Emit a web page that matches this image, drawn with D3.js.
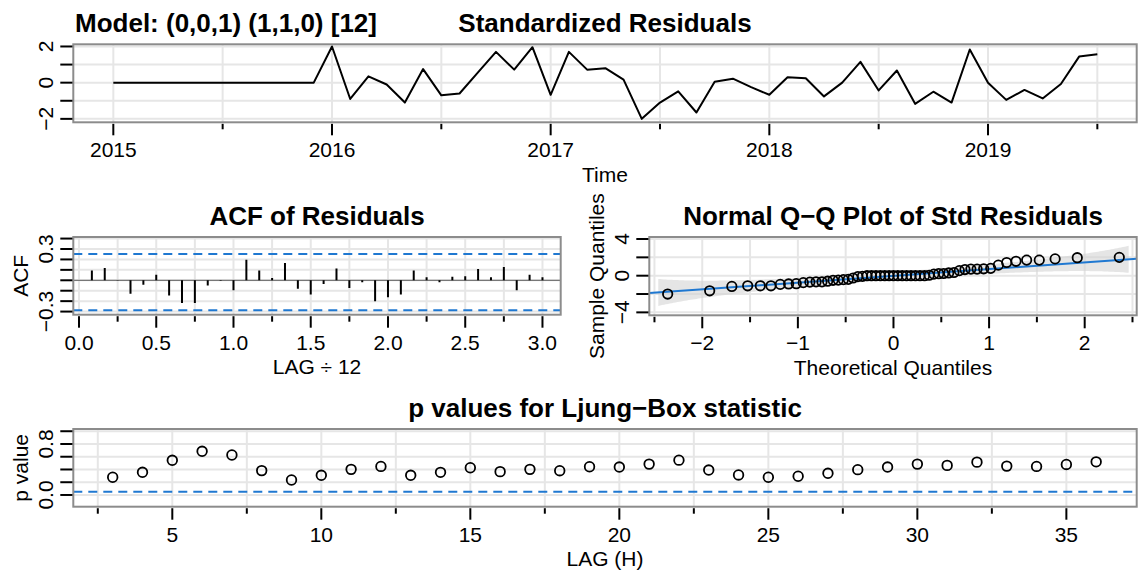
<!DOCTYPE html>
<html>
<head>
<meta charset="utf-8">
<script src="https://cdn.jsdelivr.net/npm/d3@7/dist/d3.min.js"></script>
<style>
  body { margin: 0; background: #fff; }
  svg  { display: block; font-family: "Liberation Sans", Arial, Helvetica, sans-serif; }
</style>
</head>
<body>
<svg id="chart" width="1143" height="572"></svg>
<script>
/**
 *   sarima() residual diagnostics, four panels
 */

// standardized residuals, monthly from Jan 2015 to Jul 2019
var startYear = 2015;
var resid = [0, 0, 0, 0, 0, 0, 0, 0, 0, 0, 0, 0,
             2.0, -0.9, 0.35, -0.1, -1.1, 0.75, -0.7, -0.6, 0.55, 1.7, 0.72, 1.96,
             -0.67, 1.7, 0.72, 0.8, 0.17, -2.0, -1.1, -0.48, -1.65, 0.05, 0.22, -0.25,
             -0.67, 0.3, 0.24, -0.76, 0.0, 1.15, -0.43, 0.67, -1.17, -0.5, -1.1, 1.83,
             0.0, -0.95, -0.4, -0.87, -0.07, 1.44, 1.57];

// residual ACF, lags 1..36 (plotted against lag / 12)
var acfValues = [0.093, 0.118, 0.003, -0.128, -0.042, 0.054, -0.147, -0.217, -0.217, -0.051, -0.005, -0.096,
                 0.198, 0.093, 0.022, 0.166, -0.080, -0.137, -0.035, 0.112, -0.073, -0.019, -0.200, -0.163,
                 -0.137, 0.093, 0.029, -0.019, 0.035, 0.038, 0.109, 0.029, 0.128, -0.096, 0.054, 0.029];

// Ljung-Box p values, lags 3..36
var lbLags = d3.range(3, 37);
var lbPvalues = [0.278, 0.356, 0.544, 0.685, 0.627, 0.382, 0.235, 0.309, 0.402, 0.448, 0.309, 0.355,
                 0.427, 0.366, 0.402, 0.381, 0.443, 0.438, 0.484, 0.546, 0.391, 0.314, 0.278, 0.294,
                 0.340, 0.397, 0.438, 0.484, 0.464, 0.515, 0.453, 0.448, 0.479, 0.520];

// qq reference line and band
var qqSlope = 0.735, qqIntercept = -0.02, bandZ = 2.46, bandK = 3.46;
var lbLevel = 0.05;

var svg = d3.select("#chart");
var defs = svg.append("defs");
var blue = "#1f78d1";
var minus = function(s) { return s.replace("-", "\u2212"); };

svg.append("rect").attr("width", 1143).attr("height", 572).attr("fill", "#fff");

/**
 *  Frame: grid, ticks, labels, box. Returns the x / y scales.
 */
function frame(p)
{
    var x = d3.scaleLinear().domain(p.xDom).range([p.left, p.right]);
    var y = d3.scaleLinear().domain(p.yDom).range([p.bottom, p.top]);
    var g = svg.append("g");

    defs.append("clipPath").attr("id", p.id)
        .append("rect")
        .attr("x", p.left).attr("y", p.top)
        .attr("width", p.right - p.left).attr("height", p.bottom - p.top);

    var xAll = p.xMajor.concat(p.xMinor);
    g.selectAll(".gx").data(xAll).enter().append("line")
        .attr("x1", x).attr("x2", x)
        .attr("y1", p.top).attr("y2", p.bottom)
        .attr("stroke", "#e6e6e6").attr("stroke-width", 2);
    g.selectAll(".gy").data(p.yTicks).enter().append("line")
        .attr("y1", y).attr("y2", y)
        .attr("x1", p.left).attr("x2", p.right)
        .attr("stroke", "#e6e6e6").attr("stroke-width", 2);

    // x ticks
    g.selectAll(".tx").data(p.xMajor).enter().append("line")
        .attr("x1", x).attr("x2", x)
        .attr("y1", p.bottom + 1.5).attr("y2", p.bottom + 13)
        .attr("stroke", "#000").attr("stroke-width", 2);
    g.selectAll(".tm").data(p.xMinor).enter().append("line")
        .attr("x1", x).attr("x2", x)
        .attr("y1", p.bottom + 1.5).attr("y2", p.bottom + 7)
        .attr("stroke", "#000").attr("stroke-width", 2);
    g.selectAll(".xl").data(p.xMajor).enter().append("text")
        .attr("x", x).attr("y", p.bottom + 35)
        .attr("text-anchor", "middle").attr("font-size", 21)
        .text(p.xFmt);

    // y ticks, labels turned like R's default las = 0
    g.selectAll(".ty").data(p.yTicks).enter().append("line")
        .attr("y1", y).attr("y2", y)
        .attr("x1", p.left - 13).attr("x2", p.left)
        .attr("stroke", "#000").attr("stroke-width", 2);
    g.selectAll(".yl").data(p.yLabels).enter().append("text")
        .attr("transform", function(d) { return "translate(" + (p.left - 20) + "," + y(d) + ") rotate(-90)"; })
        .attr("text-anchor", "middle").attr("font-size", 21)
        .text(p.yFmt);

    if (p.xTitle) {
        g.append("text")
            .attr("x", (p.left + p.right) / 2).attr("y", p.bottom + 59.5)
            .attr("text-anchor", "middle").attr("font-size", 21)
            .text(p.xTitle);
    }
    if (p.yTitle) {
        g.append("text")
            .attr("transform", "translate(" + (p.left - 45) + "," + (p.top + p.bottom) / 2 + ") rotate(-90)")
            .attr("text-anchor", "middle").attr("font-size", 21)
            .text(p.yTitle);
    }
    g.append("text")
        .attr("x", (p.left + p.right) / 2).attr("y", p.top - 12)
        .attr("text-anchor", "middle").attr("font-size", 26).attr("font-weight", "bold")
        .text(p.title);

    p.g = svg.append("g").attr("clip-path", "url(#" + p.id + ")");
    p.x = x;
    p.y = y;
    return p;
}

function box(p)
{
    svg.append("rect")
        .attr("x", p.left).attr("y", p.top)
        .attr("width", p.right - p.left).attr("height", p.bottom - p.top)
        .attr("fill", "none").attr("stroke", "#8c8c8c").attr("stroke-width", 2);
}

/* ---------- Standardized residuals ---------- */
var years = d3.range(2015, 2020);
var top1 = frame({
    id: "clip-res", left: 73.3, right: 1136.7, top: 44.3, bottom: 122.3,
    xDom: [2014.817, 2019.68], yDom: [-2.19, 2.12],
    xMajor: years, xMinor: years.map(function(d) { return d + 0.5; }),
    xFmt: function(d) { return d; },
    yTicks: [-2, -1, 0, 1, 2], yLabels: [-2, 0, 2],
    yFmt: function(d) { return minus(String(d)); },
    xTitle: "Time", title: "Standardized Residuals"
});
top1.g.append("path")
    .datum(resid)
    .attr("fill", "none").attr("stroke", "#000").attr("stroke-width", 2)
    .attr("stroke-linejoin", "round")
    .attr("d", d3.line()
        .x(function(d, i) { return top1.x(startYear + i / 12); })
        .y(function(d) { return top1.y(d); }));
box(top1);
svg.append("text")
    .attr("x", 75).attr("y", 32.3)
    .attr("font-size", 26).attr("font-weight", "bold")
    .text("Model: (0,0,1) (1,1,0) [12]");

/* ---------- ACF of residuals ---------- */
var nObs = resid.length;
var acfUpper = -1 / nObs + 2 / Math.sqrt(nObs);
var acfLower = -1 / nObs - 2 / Math.sqrt(nObs);
var acfP = frame({
    id: "clip-acf", left: 73.3, right: 560.7, top: 237, bottom: 314.7,
    xDom: [-0.0369, 3.118], yDom: [-0.33, 0.415],
    xMajor: d3.range(0, 3.01, 0.5), xMinor: d3.range(0.25, 3.1, 0.5),
    xFmt: d3.format(".1f"),
    yTicks: d3.range(-3, 5).map(function(d) { return d / 10; }), yLabels: [-0.3, 0.3],
    yFmt: function(d) { return minus(d3.format(".1f")(d)); },
    xTitle: "LAG \u00f7 12", yTitle: "ACF", title: "ACF of Residuals"
});
acfP.g.append("line")
    .attr("x1", acfP.left).attr("x2", acfP.right)
    .attr("y1", acfP.y(0)).attr("y2", acfP.y(0))
    .attr("stroke", "#777").attr("stroke-width", 1.3);
acfP.g.selectAll(".bound").data([acfUpper, acfLower]).enter().append("line")
    .attr("x1", acfP.left).attr("x2", acfP.right)
    .attr("y1", acfP.y).attr("y2", acfP.y)
    .attr("stroke", blue).attr("stroke-width", 2).attr("stroke-dasharray", "9,6");
acfP.g.selectAll(".spike").data(acfValues).enter().append("line")
    .attr("x1", function(d, i) { return acfP.x((i + 1) / 12); })
    .attr("x2", function(d, i) { return acfP.x((i + 1) / 12); })
    .attr("y1", acfP.y(0))
    .attr("y2", function(d) { return acfP.y(d); })
    .attr("stroke", "#000").attr("stroke-width", 2);
box(acfP);

/* ---------- Normal Q-Q plot ---------- */
// inverse normal cdf (Acklam)
function qnorm(p)
{
    var a = [-3.969683028665376e+01, 2.209460984245205e+02, -2.759285104469687e+02, 1.383577518672690e+02, -3.066479806614716e+01, 2.506628277459239e+00];
    var b = [-5.447609879822406e+01, 1.615858368580409e+02, -1.556989798598866e+02, 6.680131188771972e+01, -1.328068155288572e+01];
    var c = [-7.784894002430293e-03, -3.223964580411365e-01, -2.400758277161838e+00, -2.549732539343734e+00, 4.374664141464968e+00, 2.938163982698783e+00];
    var dd = [7.784695709041462e-03, 3.224671290700398e-01, 2.445134137142996e+00, 3.754408661907416e+00];
    var q, r;
    if (p < 0.02425) {
        q = Math.sqrt(-2 * Math.log(p));
        return (((((c[0]*q+c[1])*q+c[2])*q+c[3])*q+c[4])*q+c[5]) / ((((dd[0]*q+dd[1])*q+dd[2])*q+dd[3])*q+1);
    }
    if (p > 1 - 0.02425) return -qnorm(1 - p);
    q = p - 0.5; r = q * q;
    return (((((a[0]*r+a[1])*r+a[2])*r+a[3])*r+a[4])*r+a[5])*q / (((((b[0]*r+b[1])*r+b[2])*r+b[3])*r+b[4])*r+1);
}
function dnorm(z) { return Math.exp(-z * z / 2) / Math.sqrt(2 * Math.PI); }
function pnorm(z)
{
    var t = 1 / (1 + 0.2316419 * Math.abs(z));
    var s = dnorm(z) * t * (0.319381530 + t * (-0.356563782 + t * (1.781477937 + t * (-1.821255978 + t * 1.330274429))));
    return z > 0 ? 1 - s : s;
}

var sorted = resid.slice().sort(d3.ascending);
var qqPoints = sorted.map(function(d, i) { return { z: qnorm((i + 0.5) / nObs), v: d }; });

var qq = frame({
    id: "clip-qq", left: 649.3, right: 1136.7, top: 237, bottom: 315.3,
    xDom: [-2.554, 2.544], yDom: [-4.32, 4.22],
    xMajor: [-2, -1, 0, 1, 2], xMinor: [-2.5, -1.5, -0.5, 0.5, 1.5, 2.5],
    xFmt: function(d) { return minus(String(d)); },
    yTicks: [-4, -2, 0, 2, 4], yLabels: [-4, 0, 4],
    yFmt: function(d) { return minus(String(d)); },
    xTitle: "Theoretical Quantiles", yTitle: "Sample Quantiles", title: "Normal Q\u2212Q Plot of Std Residuals"
});
var bandGrid = d3.range(-bandZ, bandZ + 0.001, 0.02);
qq.g.append("path")
    .datum(bandGrid)
    .attr("fill", "#d4d4d4").attr("fill-opacity", 0.6)
    .attr("d", d3.area()
        .x(function(z) { return qq.x(z); })
        .y0(function(z) {
            var P = pnorm(z);
            var se = bandK * qqSlope * Math.sqrt(P * (1 - P) / nObs) / dnorm(z);
            return qq.y(qqIntercept + qqSlope * z - se);
        })
        .y1(function(z) {
            var P = pnorm(z);
            var se = bandK * qqSlope * Math.sqrt(P * (1 - P) / nObs) / dnorm(z);
            return qq.y(qqIntercept + qqSlope * z + se);
        }));
qq.g.append("line")
    .attr("x1", qq.left).attr("x2", qq.right)
    .attr("y1", qq.y(qqIntercept + qqSlope * qq.xDom[0]))
    .attr("y2", qq.y(qqIntercept + qqSlope * qq.xDom[1]))
    .attr("stroke", blue).attr("stroke-width", 2);
qq.g.selectAll(".pt").data(qqPoints).enter().append("circle")
    .attr("cx", function(d) { return qq.x(d.z); })
    .attr("cy", function(d) { return qq.y(d.v); })
    .attr("r", 4.7)
    .attr("fill", "none").attr("stroke", "#000").attr("stroke-width", 1.8);
box(qq);

/* ---------- Ljung-Box p values ---------- */
var lb = frame({
    id: "clip-lb", left: 73.3, right: 1136.7, top: 429, bottom: 506.7,
    xDom: [1.678, 37.36], yDom: [-0.184, 1.035],
    xMajor: d3.range(5, 36, 5), xMinor: d3.range(2.5, 35, 5),
    xFmt: function(d) { return d; },
    yTicks: d3.range(0, 6).map(function(d) { return d / 5; }), yLabels: [0, 0.8],
    yFmt: d3.format(".1f"),
    xTitle: "LAG (H)", yTitle: "p value", title: "p values for Ljung\u2212Box statistic"
});
lb.g.append("line")
    .attr("x1", lb.left).attr("x2", lb.right)
    .attr("y1", lb.y(lbLevel)).attr("y2", lb.y(lbLevel))
    .attr("stroke", blue).attr("stroke-width", 2).attr("stroke-dasharray", "9,6");
lb.g.selectAll(".pv").data(lbPvalues).enter().append("circle")
    .attr("cx", function(d, i) { return lb.x(lbLags[i]); })
    .attr("cy", function(d) { return lb.y(d); })
    .attr("r", 4.8)
    .attr("fill", "none").attr("stroke", "#000").attr("stroke-width", 1.8);
box(lb);
</script>
</body>
</html>
